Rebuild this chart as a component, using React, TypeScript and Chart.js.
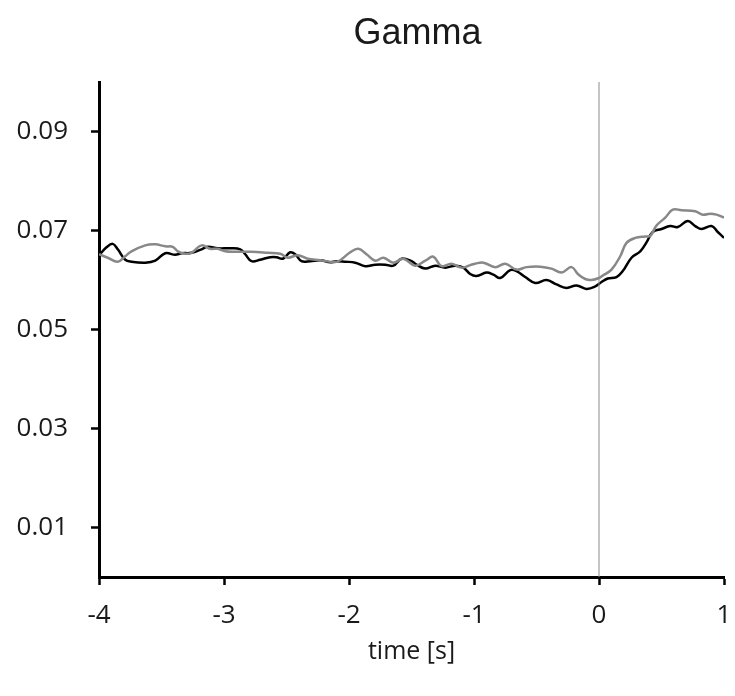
import React, { useEffect, useRef } from "react";
import { Chart, registerables } from "chart.js";

Chart.register(...registerables);

const TITLE = "Gamma";
const X_TITLE = "time [s]";

const xTickValues = [-4, -3, -2, -1, 0, 1];
const yTickValues = [0.01, 0.03, 0.05, 0.07, 0.09];
const yTickLabels = ["0.01", "0.03", "0.05", "0.07", "0.09"];

const blackTimes = [
  -4.0, -3.94, -3.89, -3.85, -3.79, -3.74, -3.63, -3.55, -3.47, -3.39, -3.34, -3.26, -3.18, -3.13, -3.05,
  -2.95, -2.87, -2.83, -2.78, -2.71, -2.63, -2.58, -2.53, -2.47, -2.43, -2.38, -2.31, -2.23, -2.15, -2.1, -2.03,
  -1.95, -1.87, -1.79, -1.71, -1.645, -1.58, -1.5, -1.46, -1.39, -1.31, -1.23, -1.15, -1.085, -1.03,
  -0.98, -0.9, -0.845, -0.79, -0.71, -0.66, -0.59, -0.51, -0.42, -0.34, -0.26, -0.18, -0.1, -0.03,
  0.02, 0.07, 0.14, 0.19, 0.26, 0.33, 0.38, 0.43, 0.5, 0.57, 0.63, 0.71, 0.77, 0.82, 0.9, 0.95, 1.0,
];
const blackValues = [
  0.065, 0.0666, 0.0673, 0.0662, 0.0641, 0.0637, 0.0635, 0.0639, 0.0654, 0.0651, 0.0654, 0.0655, 0.0662, 0.0667, 0.0664,
  0.0664, 0.0662, 0.0652, 0.0638, 0.0641, 0.0646, 0.0646, 0.0643, 0.0656, 0.0652, 0.0638, 0.0638, 0.064, 0.0636, 0.0638, 0.0637,
  0.0635, 0.0628, 0.0631, 0.0631, 0.0629, 0.0643, 0.0638, 0.0631, 0.0623, 0.0629, 0.0625, 0.0629, 0.0625, 0.0612,
  0.0608, 0.0615, 0.0611, 0.0604, 0.062, 0.0618, 0.0606, 0.0594, 0.06, 0.0591, 0.0584, 0.0589, 0.0582, 0.0587,
  0.0596, 0.0603, 0.0606, 0.0618, 0.0645, 0.0658, 0.0676, 0.0697, 0.0703, 0.0709, 0.0707, 0.0719, 0.0709, 0.0703, 0.0709, 0.0697, 0.0685,
];

const grayTimes = [
  -4.0, -3.93, -3.85, -3.79, -3.74, -3.63, -3.55, -3.47, -3.41, -3.37, -3.31, -3.26, -3.18, -3.11, -3.05,
  -2.99, -2.91, -2.78, -2.65, -2.55, -2.49, -2.41, -2.33, -2.23, -2.12, -2.07, -1.99,
  -1.925, -1.86, -1.79, -1.725, -1.645, -1.565, -1.47, -1.39, -1.325, -1.26, -1.18, -1.1, -1.03,
  -0.99, -0.925, -0.83, -0.75, -0.66, -0.58, -0.47, -0.38, -0.3, -0.22, -0.165, -0.11, -0.06,
  0.0, 0.03, 0.1, 0.17, 0.22, 0.29, 0.37, 0.41, 0.46, 0.53, 0.59, 0.66, 0.77, 0.83, 0.89, 0.94, 1.0,
];
const grayValues = [
  0.0652, 0.0645, 0.0637, 0.0648, 0.0658, 0.067, 0.0672, 0.0668, 0.0667, 0.0658, 0.0653, 0.0655, 0.067, 0.0663, 0.0663,
  0.0658, 0.0657, 0.0657, 0.0655, 0.0653, 0.0645, 0.065, 0.0643, 0.064, 0.0636, 0.064, 0.0656,
  0.0663, 0.0652, 0.0639, 0.0645, 0.0635, 0.0643, 0.0629, 0.0639, 0.0647, 0.0628, 0.0633, 0.0625, 0.063,
  0.0633, 0.0635, 0.0626, 0.0633, 0.0621, 0.0626, 0.0627, 0.0623, 0.0615, 0.0626, 0.0611, 0.0602, 0.06,
  0.0604, 0.0609, 0.0621, 0.0648, 0.0675, 0.0685, 0.0688, 0.0689, 0.071, 0.0726, 0.0742, 0.0741, 0.0739, 0.0732, 0.0734, 0.0732, 0.0726,
];

const markerTimes = [0, 0];
const markerValues = [0, 0.1];

const W = 735;
const H = 696;

const textPlugin = {
  id: "customTexts",
  afterDraw(chart: any) {
    const ctx = chart.ctx;
    const ca = chart.chartArea;
    const cx = (ca.left + ca.right) / 2;
    ctx.save();
    ctx.fillStyle = "#1a1a1a";
    ctx.textAlign = "center";
    ctx.textBaseline = "middle";
    ctx.font = '36px "Liberation Sans", Arial, sans-serif';
    ctx.fillText(TITLE, cx + 6, 34);
    ctx.font = '25px "Open Sans", sans-serif';
    ctx.fillText(X_TITLE, cx, 652);
    ctx.restore();
  },
};

export default function App() {
  const ref = useRef<HTMLCanvasElement | null>(null);

  useEffect(() => {
    if (!ref.current) return;
    const toPts = (xs: number[], ys: number[]) => xs.map((x, i) => ({ x, y: ys[i] }));
    const chart = new Chart(ref.current, {
      type: "line",
      data: {
        datasets: [
          {
            data: toPts(markerTimes, markerValues),
            borderColor: "#8c8c8c",
            borderWidth: 1,
            pointRadius: 0,
            tension: 0,
          },
          {
            data: toPts(grayTimes, grayValues),
            borderColor: "#888888",
            borderWidth: 2.5,
            pointRadius: 0,
            tension: 0.4,
          },
          {
            data: toPts(blackTimes, blackValues),
            borderColor: "#000000",
            borderWidth: 2.5,
            pointRadius: 0,
            tension: 0.4,
          },
        ],
      },
      options: {
        animation: false,
        responsive: false,
        devicePixelRatio: 1,
        layout: { padding: { left: 0, right: 11, top: 82, bottom: 0 } },
        plugins: {
          legend: { display: false },
          title: { display: false },
          tooltip: { enabled: false },
        },
        scales: {
          x: {
            type: "linear",
            min: -4,
            max: 1,
            afterBuildTicks: (scale: any) => {
              scale.ticks = xTickValues.map((v) => ({ value: v }));
            },
            afterFit: (scale: any) => {
              scale.height = H - 577;
              scale.paddingLeft = 0;
              scale.paddingRight = 0;
            },
            grid: {
              drawOnChartArea: false,
              drawTicks: true,
              tickLength: 8,
              tickWidth: 2.5,
              tickColor: "#000",
            },
            border: { display: true, color: "#000", width: 3 },
            ticks: {
              color: "#1a1a1a",
              font: { family: '"Open Sans", sans-serif', size: 26 },
              padding: 15,
              maxRotation: 0,
              callback: (v: any) => String(v),
            },
          },
          y: {
            type: "linear",
            min: 0,
            max: 0.1,
            afterBuildTicks: (scale: any) => {
              scale.ticks = yTickValues.map((v) => ({ value: v }));
            },
            afterFit: (scale: any) => {
              scale.width = 99;
              scale.paddingTop = 0;
              scale.paddingBottom = 0;
            },
            grid: {
              drawOnChartArea: false,
              drawTicks: true,
              tickLength: 8,
              tickWidth: 2.5,
              tickColor: "#000",
            },
            border: { display: true, color: "#000", width: 3 },
            ticks: {
              color: "#1a1a1a",
              font: { family: '"Open Sans", sans-serif', size: 26 },
              padding: 23,
              callback: (v: any) => {
                const i = yTickValues.findIndex((t) => Math.abs(t - v) < 1e-9);
                return i >= 0 ? yTickLabels[i] : "";
              },
            },
          },
        },
      },
      plugins: [textPlugin],
    } as any);
    return () => chart.destroy();
  }, []);

  return (
    <div style={{ position: "absolute", left: 0, top: 0, width: W, height: H, background: "#fff" }}>
      <canvas ref={ref} width={W} height={H} style={{ width: W, height: H, display: "block" }} />
    </div>
  );
}
